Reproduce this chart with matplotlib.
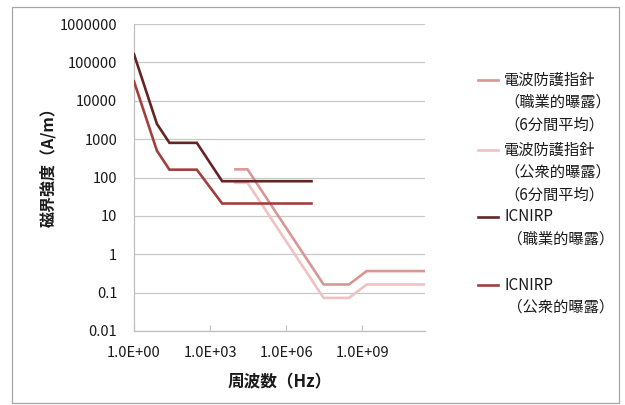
import matplotlib
matplotlib.use("Agg")
import matplotlib.pyplot as plt
from matplotlib.lines import Line2D
from matplotlib.patches import Rectangle

plt.rcParams['font.family'] = ['Noto Sans CJK JP', 'DejaVu Sans']

# 電波防護指針 (10 kHz - 300 GHz), 6-minute average
guide_freq = [1e4, 3e4, 3e7, 3e8, 1.5e9, 3e11]
guide_occ = [163, 163, 0.163, 0.163, 0.365, 0.365]
guide_pub = [72.8, 72.8, 0.0728, 0.0728, 0.163, 0.163]

# ICNIRP 2010 (1 Hz - 10 MHz)
icnirp_freq = [1, 8, 25, 300, 3000, 1e7]
icnirp_occ = [1.63e5, 2.5e3, 800, 800, 80, 80]
icnirp_pub = [3.2e4, 500, 160, 160, 21, 21]

series_labels = [
    "電波防護指針\n（職業的曝露）\n（6分間平均）",
    "電波防護指針\n（公衆的曝露）\n（6分間平均）",
    "ICNIRP\n （職業的曝露）",
    "ICNIRP\n （公衆的曝露）",
]
series_colors = ['#D99694', '#EDC2C1', '#632523', '#A0403E']

ytick_vals = [0.01, 0.1, 1, 10, 100, 1000, 10000, 100000, 1000000]
ytick_labels = ['0.01', '0.1', '1', '10', '100', '1000', '10000', '100000', '1000000']
xtick_vals = [1, 1e3, 1e6, 1e9]
xtick_labels = ['1.0E+00', '1.0E+03', '1.0E+06', '1.0E+09']

fig = plt.figure(figsize=(6.25, 4.05), dpi=100)
ax = fig.add_axes([134 / 625, 1 - 331 / 405, 291 / 625, 307 / 405])

series = [
    (guide_freq, guide_occ),
    (guide_freq, guide_pub),
    (icnirp_freq, icnirp_occ),
    (icnirp_freq, icnirp_pub),
]
for (fx, fy), c in zip(series, series_colors):
    ax.plot(fx, fy, color=c, lw=1.9, solid_joinstyle='miter', zorder=3)

ax.set_xscale('log')
ax.set_yscale('log')
ax.set_xlim(1, 3e11)
ax.set_ylim(0.01, 1e6)

ax.set_yticks(ytick_vals)
ax.set_yticklabels(ytick_labels)
ax.set_xticks(xtick_vals)
ax.set_xticklabels(xtick_labels)
ax.minorticks_off()
ax.tick_params(axis='y', length=0, pad=12, labelsize=10.5, colors='#1a1a1a')
ax.tick_params(axis='x', direction='in', length=4, color='#BFBFBF', pad=11,
               labelsize=10.5, labelcolor='#1a1a1a')

ax.grid(axis='y', color='#C8C8C8', lw=0.9)
ax.set_axisbelow(True)
for side in ['top', 'right']:
    ax.spines[side].set_visible(False)
for side in ['left', 'bottom']:
    ax.spines[side].set_color('#BFBFBF')
    ax.spines[side].set_linewidth(0.9)

ax.set_ylabel('磁界強度（A/m）', fontsize=11.5, fontweight='bold', color='#1a1a1a')
ax.yaxis.set_label_coords(-0.268, 0.547)
ax.set_xlabel('周波数（Hz）', fontsize=12, fontweight='bold', color='#1a1a1a')
ax.xaxis.set_label_coords(0.502, -0.137)

# legend on the right, handle beside the first line of each entry
entry_tops = [80, 150, 217, 285]
line_step = 22.5
for label, c, top in zip(series_labels, series_colors, entry_tops):
    yf = 1 - top / 405
    fig.add_artist(Line2D([478 / 625, 498 / 625], [yf, yf], color=c, lw=1.9,
                          transform=fig.transFigure))
    for i, part in enumerate(label.split('\n')):
        fig.text(504 / 625, 1 - (top + i * line_step) / 405, part,
                 fontsize=11, va='center', ha='left', color='#1a1a1a')

# chart border
fig.add_artist(Rectangle((12 / 625, 0.006), 607 / 625, 0.9765, fill=False,
                         edgecolor='#A6A6A6', lw=0.9, transform=fig.transFigure))

fig.savefig('out.png', dpi=100)
